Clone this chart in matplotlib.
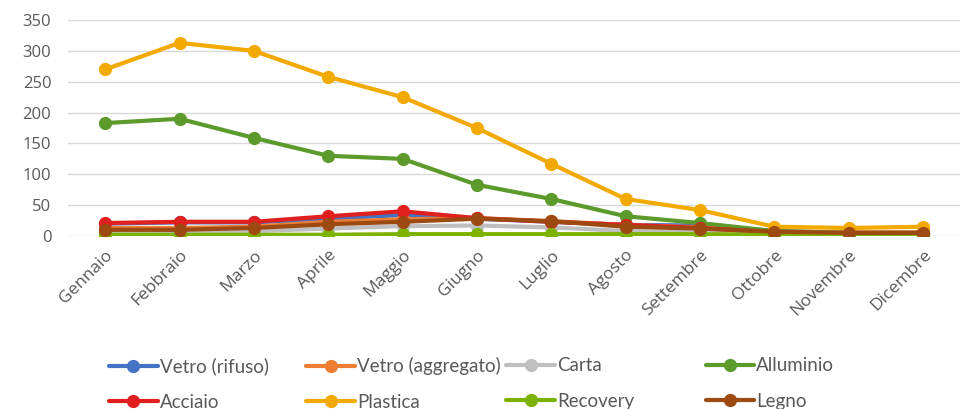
import matplotlib
matplotlib.use("Agg")
from matplotlib import pyplot as plt
import numpy as np

mesi = ["Gennaio", "Febbraio", "Marzo", "Aprile", "Maggio", "Giugno",
        "Luglio", "Agosto", "Settembre", "Ottobre", "Novembre", "Dicembre"]

vetro_rifuso = [20, 22, 22, 28, 34, 28, 23, 18, 17, 8, 5, 5]
vetro_aggregato = [13, 13, 15, 23, 27, 29, 24, 18, 14, 7, 6, 6]
carta = [7, 7, 8, 12, 16, 17, 14, 8, 6, 4, 4, 4]
alluminio = [183, 190, 159, 130, 125, 83, 60, 32, 21, 8, 5, 5]
acciaio = [21, 23, 23, 32, 40, 29, 23, 18, 13, 6, 4, 4]
plastica = [270, 313, 300, 258, 225, 175, 117, 60, 42, 15, 13, 15]
recovery = [2, 2, 2, 2, 3, 3, 3, 3, 3, 2, 2, 2]
legno = [10, 10, 13, 19, 23, 28, 24, 15, 12, 7, 5, 5]

serie = [
    ("Vetro (rifuso)", vetro_rifuso, "#4472C4"),
    ("Vetro (aggregato)", vetro_aggregato, "#ED7D31"),
    ("Carta", carta, "#BFBFBF"),
    ("Alluminio", alluminio, "#5B9A2B"),
    ("Acciaio", acciaio, "#E01F1F"),
    ("Plastica", plastica, "#F2A900"),
    ("Recovery", recovery, "#7DB300"),
    ("Legno", legno, "#9C4A12"),
]

fig = plt.figure(figsize=(9.67, 4.09), dpi=100)
ax = fig.add_axes([0.0703, 0.423, 0.9227, 0.528])

x = np.arange(len(mesi))
handles = []
for nome, valori, colore in serie:
    h, = ax.plot(x, valori, color=colore, lw=3, marker="o", ms=8.5,
                 solid_capstyle="round", label=nome)
    handles.append(h)

ax.set_xlim(-0.5, len(mesi) - 0.5)
ax.set_ylim(0, 350)
ax.set_yticks(np.arange(0, 351, 50))
ax.grid(axis="y", color="#D9D9D9", lw=1)
ax.set_axisbelow(True)
for s in ax.spines.values():
    s.set_visible(False)
ax.tick_params(length=0, colors="#595959", labelsize=12)
ax.tick_params(axis="y", pad=12)
ax.set_xticks(x)
ax.set_xticklabels(mesi, rotation=45, ha="right", va="top",
                   rotation_mode="anchor", fontsize=12.5, color="#595959",
                   family="Open Sans")
for lab in ax.get_yticklabels():
    lab.set_family("Open Sans")
ax.tick_params(axis="x", pad=8)

# legenda a colonne fisse come in Excel
col_x = [0.105, 0.309, 0.516, 0.722]
for i, cx in enumerate(col_x):
    fig.legend(handles=[handles[i], handles[i + 4]], loc="upper left",
               bbox_to_anchor=(cx, 0.145), frameon=False, handlelength=2.6,
               handletextpad=0.1, labelspacing=1.0, borderaxespad=0,
               prop={"family": "Lato", "size": 13.5}, labelcolor="#595959")

plt.savefig("out.png", dpi=100)
